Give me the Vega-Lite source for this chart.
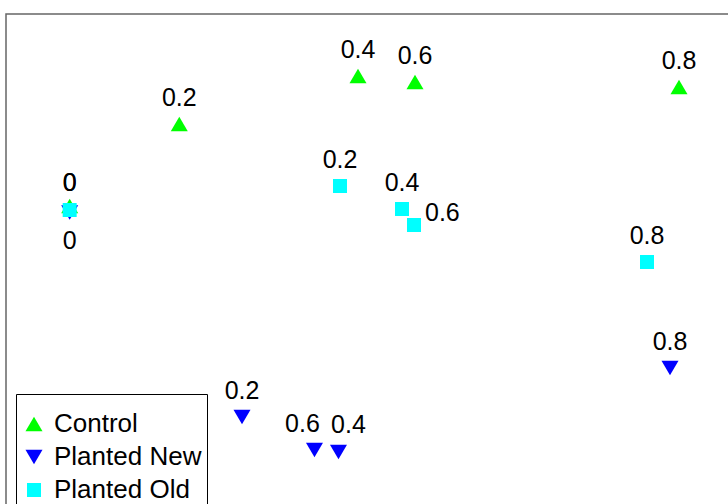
{
  "$schema": "https://vega.github.io/schema/vega-lite/v6.json",
  "width": 800,
  "height": 560,
  "autosize": {"type": "none"},
  "padding": {"left": 6, "top": 14, "right": 0, "bottom": 0},
  "background": "white",
  "config": {
    "view": {"stroke": "#666666", "strokeWidth": 1.5},
    "font": "Liberation Sans"
  },
  "data": {
    "values": [
      {"group": "Control", "label": "0", "x": -0.8408, "y": 0.3143},
      {"group": "Control", "label": "0.2", "x": -0.5668, "y": 0.6071},
      {"group": "Control", "label": "0.4", "x": -0.12, "y": 0.7786},
      {"group": "Control", "label": "0.6", "x": 0.0225, "y": 0.7571},
      {"group": "Control", "label": "0.8", "x": 0.6825, "y": 0.7393},
      {"group": "Planted New", "label": "0", "x": -0.8408, "y": 0.2911},
      {"group": "Planted New", "label": "0.2", "x": -0.41, "y": -0.4393},
      {"group": "Planted New", "label": "0.4", "x": -0.1688, "y": -0.5643},
      {"group": "Planted New", "label": "0.6", "x": -0.2288, "y": -0.5571},
      {"group": "Planted New", "label": "0.8", "x": 0.66, "y": -0.2643},
      {"group": "Planted Old", "label": "0", "x": -0.8408, "y": 0.3},
      {"group": "Planted Old", "label": "0.2", "x": -0.165, "y": 0.3857},
      {"group": "Planted Old", "label": "0.4", "x": -0.01, "y": 0.3036},
      {"group": "Planted Old", "label": "0.6", "x": 0.02, "y": 0.2464},
      {"group": "Planted Old", "label": "0.8", "x": 0.6025, "y": 0.1143}
    ]
  },
  "encoding": {
    "x": {"field": "x", "type": "quantitative", "scale": {"domain": [-1, 1], "nice": false, "zero": false}, "axis": null},
    "y": {"field": "y", "type": "quantitative", "scale": {"domain": [-1, 1], "nice": false, "zero": false}, "axis": null}
  },
  "layer": [
    {
      "mark": {"type": "point", "filled": true, "opacity": 1, "strokeWidth": 0},
      "encoding": {
        "color": {
          "field": "group", "type": "nominal",
          "scale": {"domain": ["Control", "Planted New", "Planted Old"], "range": ["#00ff00", "#0000ff", "#00ffff"]},
          "legend": {
            "title": " ",
            "titleFontSize": 8,
            "titlePadding": 4,
            "orient": "none",
            "legendX": 10,
            "legendY": 380,
            "padding": 5,
            "strokeColor": "#000000",
            "fillColor": "white",
            "labelFont": "Liberation Sans",
            "labelFontSize": 26,
            "labelColor": "#000000",
            "labelOffset": 7,
            "rowPadding": 7,
            "symbolStrokeWidth": 0,
            "symbolOpacity": 1
          }
        },
        "shape": {
          "field": "group", "type": "nominal",
          "scale": {"domain": ["Control", "Planted New", "Planted Old"], "range": ["triangle-up", "triangle-down", "square"]}
        },
        "size": {
          "field": "group", "type": "nominal",
          "scale": {"type": "ordinal", "domain": ["Control", "Planted New", "Planted Old"], "range": [289, 289, 196]}
        }
      }
    },
    {
      "transform": [{"filter": "!(datum.label == '0' || (datum.group == 'Planted New' && (datum.label == '0.4' || datum.label == '0.6')) || (datum.group == 'Planted Old' && datum.label == '0.6'))"}],
      "mark": {"type": "text", "dy": -26, "fontSize": 25, "font": "Liberation Sans", "color": "#000000", "baseline": "middle"},
      "encoding": {"text": {"field": "label"}}
    },
    {
      "transform": [{"filter": "datum.group == 'Control' && datum.label == '0'"}],
      "mark": {"type": "text", "dy": -23, "fontSize": 25, "font": "Liberation Sans", "color": "#000000", "baseline": "middle"},
      "encoding": {"text": {"field": "label"}}
    },
    {
      "transform": [{"filter": "datum.group == 'Planted Old' && datum.label == '0'"}],
      "mark": {"type": "text", "dy": -27, "fontSize": 25, "font": "Liberation Sans", "color": "#000000", "baseline": "middle"},
      "encoding": {"text": {"field": "label"}}
    },
    {
      "transform": [{"filter": "datum.group == 'Planted New' && datum.label == '0'"}],
      "mark": {"type": "text", "dy": 29, "fontSize": 25, "font": "Liberation Sans", "color": "#000000", "baseline": "middle"},
      "encoding": {"text": {"field": "label"}}
    },
    {
      "transform": [{"filter": "datum.group == 'Planted New' && datum.label == '0.6'"}],
      "mark": {"type": "text", "dx": -12, "dy": -26, "fontSize": 25, "font": "Liberation Sans", "color": "#000000", "baseline": "middle"},
      "encoding": {"text": {"field": "label"}}
    },
    {
      "transform": [{"filter": "datum.group == 'Planted New' && datum.label == '0.4'"}],
      "mark": {"type": "text", "dx": 10, "dy": -27, "fontSize": 25, "font": "Liberation Sans", "color": "#000000", "baseline": "middle"},
      "encoding": {"text": {"field": "label"}}
    },
    {
      "transform": [{"filter": "datum.group == 'Planted Old' && datum.label == '0.6'"}],
      "mark": {"type": "text", "dx": 11, "dy": -12, "align": "left", "fontSize": 25, "font": "Liberation Sans", "color": "#000000", "baseline": "middle"},
      "encoding": {"text": {"field": "label"}}
    }
  ]
}
